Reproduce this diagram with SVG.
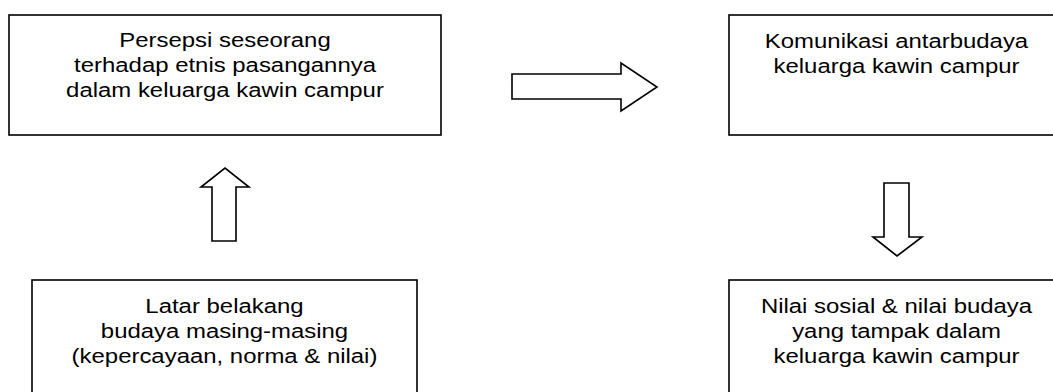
<svg xmlns="http://www.w3.org/2000/svg" width="1053" height="392" viewBox="0 0 1053 392">
<style>
.box{fill:#fff;stroke:#000;stroke-width:1.6}
.arr{fill:#fff;stroke:#000;stroke-width:1.6;stroke-linejoin:miter}
.t{font-family:"Liberation Sans",Arial,sans-serif;font-size:21px;fill:#000;text-anchor:middle}
</style>
<rect width="1053" height="392" fill="#fff"/>
<g id="node-persepsi">
<rect class="box" x="9" y="15" width="432" height="120"/>
<g transform="translate(225,0) scale(1.14,1)">
<text class="t" x="0" y="47">Persepsi seseorang</text>
<text class="t" x="0" y="72">terhadap etnis pasangannya</text>
<text class="t" x="0" y="97">dalam keluarga kawin campur</text>
</g>
</g>
<g id="node-komunikasi">
<rect class="box" x="729" y="15" width="340" height="120"/>
<g transform="translate(896.5,0) scale(1.14,1)">
<text class="t" x="0" y="48">Komunikasi antarbudaya</text>
<text class="t" x="0" y="73">keluarga kawin campur</text>
</g>
</g>
<g id="node-latar">
<rect class="box" x="32" y="280" width="385" height="130"/>
<g transform="translate(224.5,0) scale(1.14,1)">
<text class="t" x="0" y="313">Latar belakang</text>
<text class="t" x="0" y="338">budaya masing-masing</text>
<text class="t" x="0" y="363">(kepercayaan, norma &amp; nilai)</text>
</g>
</g>
<g id="node-nilai">
<rect class="box" x="729" y="280" width="340" height="130"/>
<g transform="translate(896.5,0) scale(1.14,1)">
<text class="t" x="0" y="313">Nilai sosial &amp; nilai budaya</text>
<text class="t" x="0" y="338">yang tampak dalam</text>
<text class="t" x="0" y="363">keluarga kawin campur</text>
</g>
</g>
<g id="connectors">
<path class="arr" d="M512,74 H621 V63 L657,87 L621,111 V99 H512 Z"/>
<path class="arr" d="M212,241 V187 H201 L225,168 L249,187 H236 V241 Z"/>
<path class="arr" d="M884,183 H909 V237 H922 L897,256 L873,237 H884 Z"/>
</g>
</svg>
